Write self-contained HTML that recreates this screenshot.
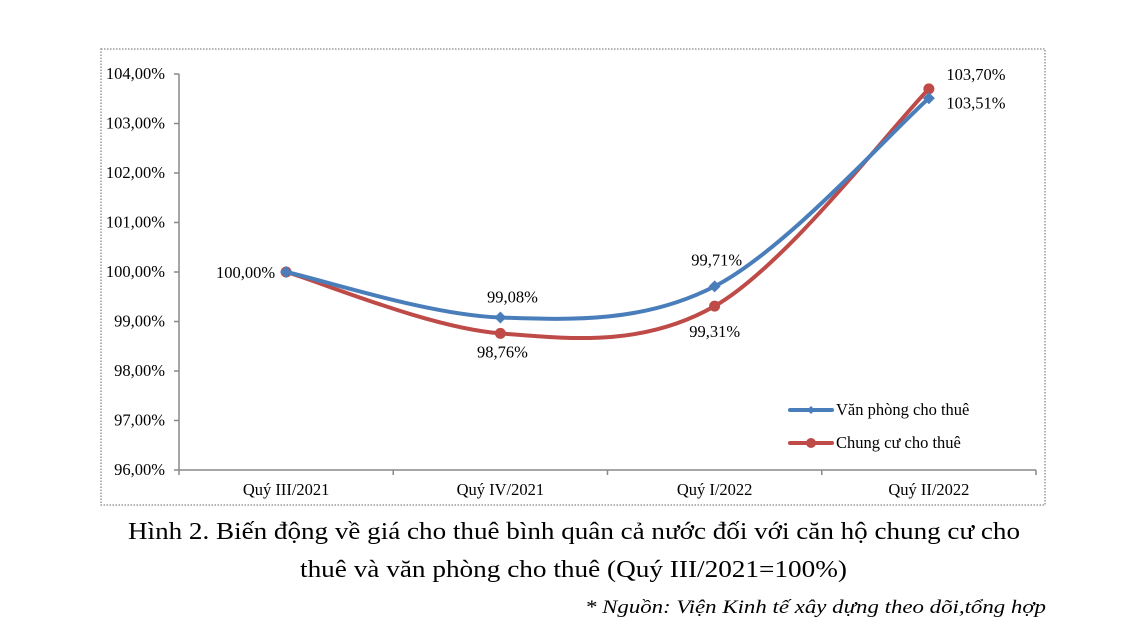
<!DOCTYPE html>
<html><head><meta charset="utf-8"><style>
body{margin:0;background:#fff;width:1123px;height:631px;overflow:hidden;font-family:"Liberation Serif",serif}
svg text{font-family:"Liberation Serif",serif}
</style></head><body>
<svg width="1123" height="631" xmlns="http://www.w3.org/2000/svg">
<rect x="101" y="49" width="944" height="456" fill="none" stroke="#999" stroke-width="1.5" stroke-dasharray="1.5,1.5"/>
<g id="axes"></g>
<g id="series"></g>
<g>
<line x1="790" y1="410" x2="832" y2="410" stroke="#4a7ebb" stroke-width="4" stroke-linecap="round"/>
<path d="M811,406 L815,410 L811,414 L807,410Z" fill="#4a7ebb"/>
<text x="836" y="415" font-size="16.5">Văn phòng cho thuê</text>
<line x1="790" y1="443" x2="832" y2="443" stroke="#be4b48" stroke-width="4" stroke-linecap="round"/>
<circle cx="811" cy="443" r="5" fill="#be4b48"/>
<text x="836" y="448" font-size="16.5">Chung cư cho thuê</text>
</g>
<text x="128" y="539" font-size="24" textLength="892" lengthAdjust="spacingAndGlyphs">Hình 2. Biến động về giá cho thuê bình quân cả nước đối với căn hộ chung cư cho</text>
<text x="300" y="577" font-size="24" textLength="547" lengthAdjust="spacingAndGlyphs">thuê và văn phòng cho thuê (Quý III/2021=100%)</text>
<text x="585" y="613" font-size="19" font-style="italic" textLength="461" lengthAdjust="spacingAndGlyphs">* Nguồn: Viện Kinh tế xây dựng theo dõi,tổng hợp</text>
</svg>
<script>
const categories=["Quý III/2021","Quý IV/2021","Quý I/2022","Quý II/2022"];
const officeValues=[100.00,99.08,99.71,103.51];
const apartmentValues=[100.00,98.76,99.31,103.70];
const yTicks=[96,97,98,99,100,101,102,103,104];
const NS="http://www.w3.org/2000/svg";
const x0=179,x1=1036,yMin=96,yMax=104,yTop=74,yBot=470;
const band=(x1-x0)/categories.length;
const xS=i=>x0+band*(i+0.5);
const yS=v=>yBot-(v-yMin)/(yMax-yMin)*(yBot-yTop);
const fmt=v=>v.toFixed(2).replace('.',',')+'%';
function el(t,a,p){const e=document.createElementNS(NS,t);for(const k in a)e.setAttribute(k,a[k]);p.appendChild(e);return e;}
const ax=document.getElementById('axes');
const yl=el('line',{x1:x0,y1:yTop,x2:x0,y2:yBot,stroke:'#888','stroke-width':1.5},ax);


yTicks.forEach(t=>{const y=yS(t);
el('line',{x1:x0-5,y1:y,x2:x0,y2:y,stroke:'#888','stroke-width':1.5},ax);
const tx=el('text',{x:x0-14,y:y+5,'font-size':16.5,'text-anchor':'end'},ax);tx.textContent=fmt(t);

});
const xl=el('line',{x1:x0,y1:yBot,x2:x1,y2:yBot,stroke:'#888','stroke-width':1.5},ax);


for(let i=0;i<=categories.length;i++){el('line',{x1:x0+band*i,y1:yBot,x2:x0+band*i,y2:yBot+5,stroke:'#888','stroke-width':1.5},ax);}
categories.forEach((c,i)=>{const t=el('text',{x:xS(i),y:yBot+25,'font-size':16.5,'text-anchor':'middle'},ax);t.textContent=c;

});
function smooth(pts){let d=`M${pts[0][0]},${pts[0][1]}`;const k=1/6;
for(let i=0;i<pts.length-1;i++){const p0=pts[i-1]||pts[i],p1=pts[i],p2=pts[i+1],p3=pts[i+2]||p2;
d+=` C${p1[0]+(p2[0]-p0[0])*k},${p1[1]+(p2[1]-p0[1])*k} ${p2[0]-(p3[0]-p1[0])*k},${p2[1]-(p3[1]-p1[1])*k} ${p2[0]},${p2[1]}`;}return d;}
const sg=document.getElementById('series');
function draw(vals,color,name,marker,labelOff){
const pts=vals.map((v,i)=>[xS(i),yS(v)]);
const p=el('path',{d:smooth(pts),fill:'none',stroke:color,'stroke-width':4},sg);


pts.forEach((q,i)=>{let m;
if(marker==='d')m=el('path',{d:`M${q[0]},${q[1]-6}L${q[0]+6},${q[1]}L${q[0]},${q[1]+6}L${q[0]-6},${q[1]}Z`,fill:color},sg);
else m=el('circle',{cx:q[0],cy:q[1],r:5.5,fill:color},sg);


const o=labelOff[i];if(!o)return;
const t=el('text',{x:q[0]+o[0],y:q[1]+o[1],'font-size':16.5,'text-anchor':o[2]||'middle'},sg);t.textContent=fmt(vals[i]);

});}
draw(apartmentValues,'#be4b48','apartment','c',[null,[2,24],[0,31],[47,-9]]);
draw(officeValues,'#4a7ebb','office','d',[[-11,6,'end'],[12,-15],[2,-21],[47,10]]);
</script>
</body></html>
